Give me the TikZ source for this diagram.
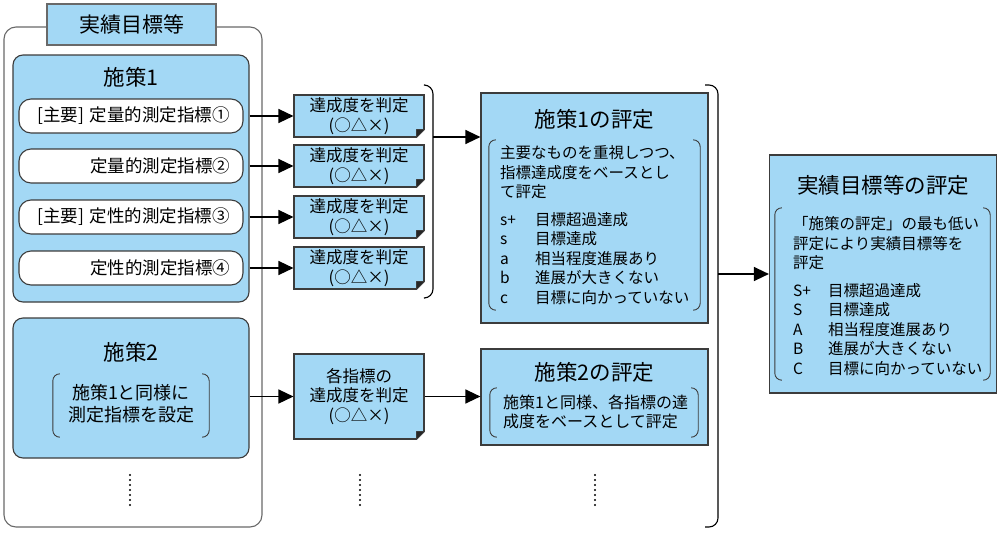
\documentclass[tikz,border=0pt]{standalone}
\usepackage{fontspec}
\setmainfont{Noto Sans CJK JP}
\usepackage{tikz}
\usetikzlibrary{positioning,calc}
\usetikzlibrary{arrows.meta}
\definecolor{PlanBlue}{RGB}{163,216,245}
\definecolor{EdgeGray}{RGB}{60,60,60}
\definecolor{FrameGray}{RGB}{105,105,105}
\newcommand{\fs}[2]{\fontsize{#1pt}{#2pt}\selectfont}
\tikzset{
  frame/.style={draw=FrameGray,line width=1.1pt,rounded corners=12pt,fill=white},
  plan/.style={draw=EdgeGray,line width=1.1pt,fill=PlanBlue,rounded corners=10pt},
  pill/.style={draw=EdgeGray,line width=1.1pt,fill=white,rounded corners=12pt,
    minimum width=224pt,minimum height=34pt,text width=198pt,align=right,
    inner sep=0pt,font=\fs{17.5}{20}},
  judge/.style={draw=EdgeGray,line width=1.1pt,fill=PlanBlue,minimum width=130pt,
    align=center,inner sep=0pt,font=\fs{16.5}{19.5}},
  evalbox/.style={draw=EdgeGray,line width=1.2pt,fill=PlanBlue,minimum width=227pt,inner sep=0pt},
  head/.style={inner sep=0pt,font=\fs{21.5}{25}},
  area/.style={inner sep=0pt},
  body/.style={inner sep=0pt,align=left,font=\fs{15.5}{19.5}},
  paren/.style={draw=EdgeGray,line width=0.9pt,rounded corners=7pt},
  brace/.style={draw=black,line width=1.1pt,rounded corners=9pt},
  arr/.style={draw=black,line width=1.4pt,-{Triangle[length=15pt,width=14pt]}},
  dots/.style={draw=black,line width=2.4pt,line cap=round,dash pattern=on 0pt off 5pt},
}
% bracket pair round a named area
\newcommand{\parens}[1]{%
  \draw[paren] ([xshift=7pt]#1.north west) -- (#1.north west) -- (#1.south west) -- ([xshift=7pt]#1.south west);
  \draw[paren] ([xshift=-7pt]#1.north east) -- (#1.north east) -- (#1.south east) -- ([xshift=-7pt]#1.south east);}
% folded corner of a judgement box
\newcommand{\foldcorner}[1]{%
  \fill[white] ([shift={(1.2pt,9pt)}]#1.south east) -- ([shift={(1.2pt,-1.2pt)}]#1.south east) -- ([shift={(-9pt,-1.2pt)}]#1.south east) -- cycle;
  \filldraw[draw=EdgeGray,fill=black!85,line width=0.8pt,line join=round] ([yshift=8pt]#1.south east) -- ([xshift=-8pt]#1.south east) -- ([shift={(-8pt,8pt)}]#1.south east) -- cycle;}

\begin{document}
\begin{tikzpicture}[x=1pt,y=-1pt]
\useasboundingbox (0,0) rectangle (1000,533);
% left frame
\node[frame,minimum width=258pt,minimum height=500pt] (outer) at (133,277) {};
\node[draw=FrameGray,line width=1.1pt,fill=PlanBlue,minimum width=169pt,minimum height=41pt,
  font=\fs{21}{25}] (goal) at (131.5,24.5) {実績目標等};
% measure 1
\node[plan,minimum width=236pt,minimum height=247pt] (m1) at (131,178.5) {};
\node[head] (m1h) at (131,77) {施策1};
\node[pill] (p1) at (131,116) {[主要] 定量的測定指標①};
\node[pill] (p2) at (131,166) {定量的測定指標②};
\node[pill] (p3) at (131,217) {[主要] 定性的測定指標③};
\node[pill] (p4) at (131,268) {定性的測定指標④};
% measure 2
\node[plan,minimum width=236pt,minimum height=140pt] (m2) at (131,388) {};
\node[head] (m2h) at (131,352) {施策2};
\node[area,minimum width=156pt,minimum height=63pt] (k0) at (131,405.5) {};
\parens{k0}
\node[area,align=center,font=\fs{18}{22}] (t0) at (131,404) {施策1と同様に\\測定指標を設定};
\draw[dots] (130,475) -- (130,505);
% judgements
\foreach \i/\y in {1/116,2/166,3/217,4/268}{
  \node[judge,minimum height=42pt] (j\i) at (359,\y) {達成度を判定\\(○△×)};
  \foldcorner{j\i}
  \draw[arr] (p\i -| m1.east) -- (j\i);
}
\node[judge,minimum height=85pt] (j5) at (359,396.5) {各指標の\\達成度を判定\\(○△×)};
\foldcorner{j5}
\draw[arr] (j5 -| m2.east) -- (j5.west);
\draw[dots] (360,475) -- (360,505);
% evaluation of measure 1
\draw[brace] (425,85) -- (433,85) -- (433,298) -- (425,298);
\coordinate (br1) at (433,137);
\node[evalbox,minimum height=230pt] (e1) at (594.5,208) {};
\node[head] (e1h) at (594.5,119) {施策1の評定};
\node[area,minimum width=211pt,minimum height=170pt] (k1) at (594.5,225) {};
\parens{k1}
\node[body,anchor=west] (t1) at (500,225) {主要なものを重視しつつ、\\指標達成度をベースとし\\て評定\\[8pt]
  \makebox[35pt][l]{s+}目標超過達成\\\makebox[35pt][l]{s}目標達成\\\makebox[35pt][l]{a}相当程度進展あり\\
  \makebox[35pt][l]{b}進展が大きくない\\\makebox[35pt][l]{c}目標に向かっていない};
\draw[arr] (br1) -- (br1 -| e1.west);
% evaluation of measure 2
\node[evalbox,minimum height=96pt] (e2) at (594.5,397) {};
\node[head] (e2h) at (594.5,372) {施策2の評定};
\node[area,minimum width=208pt,minimum height=49pt] (k2) at (594,412.5) {};
\parens{k2}
\node[body,anchor=west,font=\fs{16}{19}] (t2) at (503,412) {施策1と同様、各指標の達\\成度をベースとして評定};
\draw[arr] (j5.east) -- (j5.east -| e2.west);
\draw[dots] (595,475) -- (595,505);
% overall evaluation
\draw[brace] (705,85) -- (718,85) -- (718,527) -- (705,527);
\coordinate (br2) at (718,274);
\node[evalbox,minimum height=238pt] (e3) at (883,274) {};
\node[head] (e3h) at (883,185) {実績目標等の評定};
\node[area,minimum width=215pt,minimum height=172pt] (k3) at (882.5,294) {};
\parens{k3}
\node[body,anchor=west] (t3) at (793,296) {「施策の評定」の最も低い\\評定により実績目標等を\\評定\\[8pt]
  \makebox[35pt][l]{S+}目標超過達成\\\makebox[35pt][l]{S}目標達成\\\makebox[35pt][l]{A}相当程度進展あり\\
  \makebox[35pt][l]{B}進展が大きくない\\\makebox[35pt][l]{C}目標に向かっていない};
\draw[arr] (br2) -- (e3.west);
\end{tikzpicture}
\end{document}
